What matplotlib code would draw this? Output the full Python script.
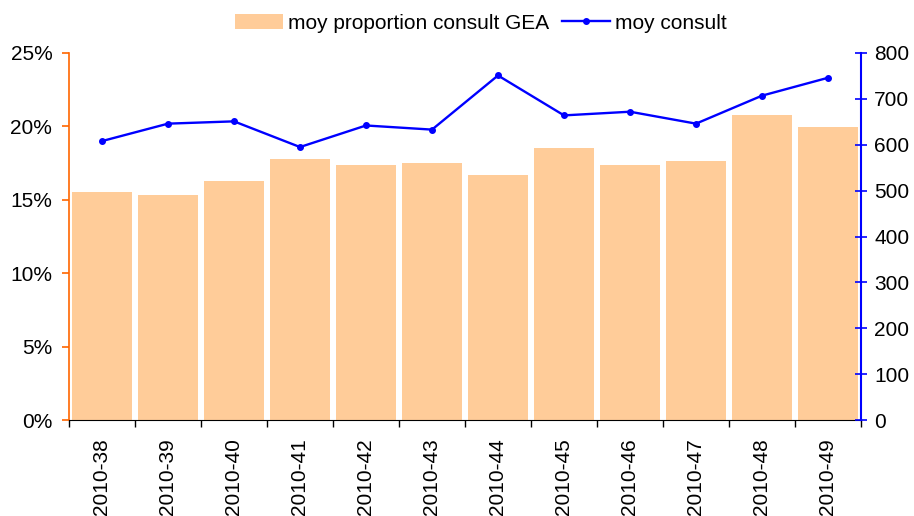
import matplotlib
matplotlib.use("Agg")
import matplotlib.pyplot as plt
from matplotlib.ticker import FuncFormatter, MultipleLocator
import numpy as np

plt.rcParams['font.family'] = ['Liberation Sans', 'DejaVu Sans']

categories = ["2010-38", "2010-39", "2010-40", "2010-41", "2010-42", "2010-43",
              "2010-44", "2010-45", "2010-46", "2010-47", "2010-48", "2010-49"]
proportion_gea = [15.5, 15.35, 16.3, 17.8, 17.4, 17.5, 16.7, 18.5, 17.4, 17.65, 20.8, 19.95]
moy_consult = [608, 646, 651, 595, 642, 633, 751, 664, 672, 646, 707, 746]

FS = 15
fig = plt.figure(figsize=(9.14, 5.16), dpi=100)
ax = fig.add_axes([69/914, (516-420)/516, (861-69)/914, (420-53)/516])
ax2 = ax.twinx()

x = np.arange(len(categories))
bars = ax.bar(x, proportion_gea, width=0.92, color='#FFCC99', zorder=1,
              label='moy proportion consult GEA')
line, = ax2.plot(x, moy_consult, color='#0000FF', lw=1.7, marker='o', ms=4,
                 label='moy consult', zorder=3)

ax.set_xlim(-0.5, len(categories) - 0.5)
ax.set_ylim(0, 25)
ax2.set_ylim(0, 800)
ax.yaxis.set_major_locator(MultipleLocator(5))
ax.yaxis.set_major_formatter(FuncFormatter(lambda v, p: f"{v:.0f}%"))
ax2.yaxis.set_major_locator(MultipleLocator(100))

ax.set_xticks(x)
ax.set_xticklabels(categories, rotation=90, fontsize=FS)
ax.set_xticks(np.arange(len(categories) + 1) - 0.5, minor=True)
ax.tick_params(axis='x', which='major', length=0, pad=13)
ax.tick_params(axis='x', which='minor', length=5, width=1, color='black', direction='out')

orange = '#FF6600'
ax.spines['left'].set_color(orange)
ax.spines['left'].set_linewidth(1.2)
ax.tick_params(axis='y', colors=orange, length=5, width=1.2, labelcolor='black',
               labelsize=FS, direction='out', pad=7)
for s in ['top', 'right']:
    ax.spines[s].set_visible(False)
ax.spines['bottom'].set_color('black')

for s in ['top', 'left', 'bottom']:
    ax2.spines[s].set_visible(False)
ax2.spines['right'].set_color('#0000FF')
ax2.spines['right'].set_linewidth(1.5)
ax2.tick_params(axis='y', colors='#0000FF', length=9, width=1.2, labelcolor='black',
                labelsize=FS, direction='inout', pad=5)

ax.set_zorder(1)
ax2.set_zorder(2)
ax.patch.set_visible(False)

fig.legend(handles=[bars, line], labels=['moy proportion consult GEA', 'moy consult'],
           loc='upper center', bbox_to_anchor=(0.526, 1.01), ncol=2, frameon=False,
           fontsize=FS, handlelength=2.3, handletextpad=0.25, columnspacing=0.6)

fig.savefig('out.png', dpi=100)
